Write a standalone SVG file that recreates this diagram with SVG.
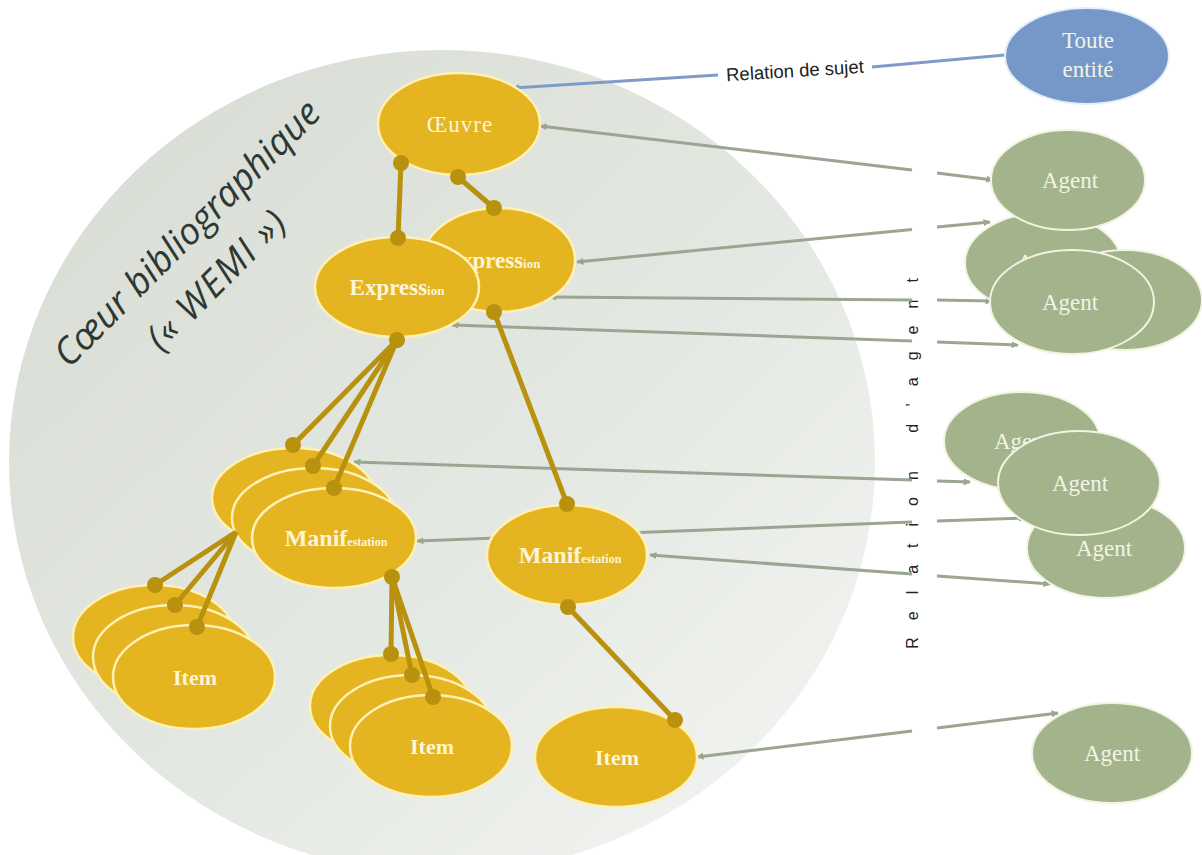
<svg xmlns="http://www.w3.org/2000/svg" width="1202" height="855" viewBox="0 0 1202 855">
<defs>
<linearGradient id="bg" x1="0" y1="0" x2="1" y2="1">
<stop offset="0" stop-color="#d6dbd2"/>
<stop offset="0.55" stop-color="#e4e8e2"/>
<stop offset="1" stop-color="#f4f6f3"/>
</linearGradient>
<marker id="ah" viewBox="0 0 10 10" refX="9" refY="5" markerWidth="2.4" markerHeight="2.4" orient="auto-start-reverse">
<path d="M0,0 L10,5 L0,10 z" fill="#9aa592"/>
</marker>
<marker id="ahb" viewBox="0 0 10 10" refX="9" refY="5" markerWidth="2.4" markerHeight="2.4" orient="auto-start-reverse">
<path d="M0,0 L10,5 L0,10 z" fill="#7f9cc8"/>
</marker>
</defs>
<style>
.gold{fill:#e4b421;stroke:#fff1b5;stroke-width:2.5}
.green{fill:#a3b38b;stroke:#f3f3e2;stroke-width:2}
.blue{fill:#7698c8;stroke:#e8eef8;stroke-width:2}
.gt{font-family:"Liberation Serif",serif;font-weight:bold;fill:#fdf5d8;text-anchor:middle}
.at{font-family:"Liberation Serif",serif;fill:#f3f3e8;text-anchor:middle;font-size:23px}
.rel{stroke:#9aa592;stroke-width:3;fill:none}
.relb{stroke:#7f9cc8;stroke-width:3;fill:none}
.lk{stroke:#b8920f;stroke-width:5;fill:none}
.dot{fill:#b8920f}
.lbl{font-family:"Liberation Sans",Arial,sans-serif;fill:#222}
</style>
<rect width="1202" height="855" fill="#ffffff"/>
<ellipse id="core" cx="442" cy="462" rx="433" ry="412" fill="url(#bg)"/>
<g id="title" transform="translate(196,242) rotate(-45)" font-family="'Open Sans',sans-serif" font-style="italic" font-size="37" fill="#2e3830" text-anchor="middle">
<text x="0" y="0">Cœur bibliographique</text>
<text x="-12" y="54" letter-spacing="1.5">(« WEMI »)</text>
</g>
<text id="rel-agent" class="lbl" transform="translate(918,455) rotate(-90)" font-size="16" letter-spacing="17" text-anchor="middle">Relation d’agent</text>
<g id="connectors">
<line class="relb" x1="513" y1="88" x2="718" y2="75" marker-start="url(#ahb)"/>
<line class="relb" x1="872" y1="67" x2="1005" y2="55"/>
<text class="lbl" x="795" y="77" font-size="18.5" text-anchor="middle" transform="rotate(-3.5 795 72)">Relation de sujet</text>
<polyline class="rel" points="540,126 912,170" marker-start="url(#ah)"/>
<polyline class="rel" points="937,173 993,180" marker-end="url(#ah)"/>
<polyline class="rel" points="577,262 912,229.5" marker-start="url(#ah)"/>
<polyline class="rel" points="937,227 990,222" marker-end="url(#ah)"/>
<polyline class="rel" points="550,297 912,300" marker-start="url(#ah)"/>
<polyline class="rel" points="937,300 992,301" marker-end="url(#ah)"/>
<polyline class="rel" points="452,325 912,341" marker-start="url(#ah)"/>
<polyline class="rel" points="937,342 1018,345" marker-end="url(#ah)"/>
<polyline class="rel" points="354,462 912,480" marker-start="url(#ah)"/>
<polyline class="rel" points="937,481 970,482" marker-end="url(#ah)"/>
<polyline class="rel" points="417,541 912,522" marker-start="url(#ah)"/>
<polyline class="rel" points="937,521 1025,518" marker-end="url(#ah)"/>
<polyline class="rel" points="650,555 912,574" marker-start="url(#ah)"/>
<polyline class="rel" points="937,576 1050,584" marker-end="url(#ah)"/>
<polyline class="rel" points="697,757 912,731" marker-start="url(#ah)"/>
<polyline class="rel" points="937,728 1058,713" marker-end="url(#ah)"/>
</g>
<g id="oeuvre"><ellipse class="gold" cx="459" cy="124" rx="81" ry="51"/><text class="gt" x="460" y="132" font-size="23" letter-spacing="1" style="font-weight:normal">Œuvre</text></g>
<g id="expression2"><ellipse class="gold" cx="499" cy="260" rx="76" ry="52"/><text class="gt" x="493" y="268"><tspan font-size="23">Express</tspan><tspan font-size="13">ion</tspan></text></g>
<g id="expression1"><ellipse class="gold" cx="397" cy="287" rx="82" ry="50"/><text class="gt" x="397" y="295"><tspan font-size="23">Express</tspan><tspan font-size="13">ion</tspan></text></g>
<g id="manif-a"><ellipse class="gold" cx="294" cy="498" rx="82" ry="50"/><text class="gt" x="296" y="506"><tspan font-size="24">Manif</tspan><tspan font-size="12">estation</tspan></text></g>
<g id="manif-b"><ellipse class="gold" cx="314" cy="518" rx="82" ry="50"/><text class="gt" x="316" y="526"><tspan font-size="24">Manif</tspan><tspan font-size="12">estation</tspan></text></g>
<g id="manif-c"><ellipse class="gold" cx="334" cy="538" rx="82" ry="50"/><text class="gt" x="336" y="546"><tspan font-size="24">Manif</tspan><tspan font-size="12">estation</tspan></text></g>
<g id="manif-d"><ellipse class="gold" cx="567" cy="555" rx="80" ry="50"/><text class="gt" x="570" y="563"><tspan font-size="24">Manif</tspan><tspan font-size="12">estation</tspan></text></g>
<g id="item-a1"><ellipse class="gold" cx="154" cy="637" rx="81" ry="52"/><text class="gt" x="155" y="645" font-size="22">Item</text></g>
<g id="item-a2"><ellipse class="gold" cx="174" cy="657" rx="81" ry="52"/><text class="gt" x="175" y="665" font-size="22">Item</text></g>
<g id="item-a3"><ellipse class="gold" cx="194" cy="677" rx="81" ry="52"/><text class="gt" x="195" y="685" font-size="22">Item</text></g>
<g id="item-b1"><ellipse class="gold" cx="391" cy="706" rx="81" ry="51"/><text class="gt" x="392" y="714" font-size="22">Item</text></g>
<g id="item-b2"><ellipse class="gold" cx="411" cy="726" rx="81" ry="51"/><text class="gt" x="412" y="734" font-size="22">Item</text></g>
<g id="item-b3"><ellipse class="gold" cx="431" cy="746" rx="81" ry="51"/><text class="gt" x="432" y="754" font-size="22">Item</text></g>
<g id="item-c"><ellipse class="gold" cx="616" cy="757" rx="81" ry="50"/><text class="gt" x="617" y="765" font-size="22">Item</text></g>
<g id="toute-entite"><ellipse class="blue" cx="1087" cy="56" rx="82" ry="48"/><text class="at" x="1088" y="48">Toute</text><text class="at" x="1088" y="77">entité</text></g>
<g id="agent-2a"><ellipse class="green" cx="1043" cy="263" rx="78" ry="50"/><text class="at" x="1045" y="270">Agent</text></g>
<g id="agent-2b"><ellipse class="green" cx="1125" cy="300" rx="77" ry="50"/><text class="at" x="1125" y="307">Agent</text></g>
<g id="agent-1"><ellipse class="green" cx="1068" cy="180" rx="77" ry="50"/><text class="at" x="1070" y="188">Agent</text></g>
<g id="agent-2"><ellipse class="green" cx="1072" cy="302" rx="82" ry="52"/><text class="at" x="1070" y="310">Agent</text></g>
<g id="agent-3a"><ellipse class="green" cx="1022" cy="441" rx="78" ry="49"/><text class="at" x="1022" y="449">Agent</text></g>
<g id="agent-3c"><ellipse class="green" cx="1106" cy="548" rx="79" ry="50"/><text class="at" x="1104" y="556">Agent</text></g>
<g id="agent-3b"><ellipse class="green" cx="1079" cy="483" rx="81" ry="52"/><text class="at" x="1080" y="491">Agent</text></g>
<g id="agent-4"><ellipse class="green" cx="1112" cy="753" rx="80" ry="50"/><text class="at" x="1112" y="761">Agent</text></g>
<g id="links">
<line class="lk" x1="401" y1="163" x2="398" y2="238"/>
<line class="lk" x1="458" y1="177" x2="494" y2="208"/>
<line class="lk" x1="397" y1="340" x2="293" y2="445"/>
<line class="lk" x1="397" y1="340" x2="313" y2="466"/>
<line class="lk" x1="397" y1="340" x2="334" y2="488"/>
<line class="lk" x1="494" y1="312" x2="567" y2="504"/>
<line class="lk" x1="236" y1="532" x2="155" y2="585"/>
<line class="lk" x1="236" y1="532" x2="175" y2="605"/>
<line class="lk" x1="236" y1="532" x2="197" y2="627"/>
<line class="lk" x1="392" y1="577" x2="391" y2="654"/>
<line class="lk" x1="392" y1="577" x2="412" y2="675"/>
<line class="lk" x1="392" y1="577" x2="433" y2="697"/>
<line class="lk" x1="568" y1="607" x2="675" y2="720"/>
<circle class="dot" cx="401" cy="163" r="8"/>
<circle class="dot" cx="398" cy="238" r="8"/>
<circle class="dot" cx="458" cy="177" r="8"/>
<circle class="dot" cx="494" cy="208" r="8"/>
<circle class="dot" cx="397" cy="340" r="8"/>
<circle class="dot" cx="293" cy="445" r="8"/>
<circle class="dot" cx="313" cy="466" r="8"/>
<circle class="dot" cx="334" cy="488" r="8"/>
<circle class="dot" cx="494" cy="312" r="8"/>
<circle class="dot" cx="567" cy="504" r="8"/>
<circle class="dot" cx="155" cy="585" r="8"/>
<circle class="dot" cx="175" cy="605" r="8"/>
<circle class="dot" cx="197" cy="627" r="8"/>
<circle class="dot" cx="392" cy="577" r="8"/>
<circle class="dot" cx="391" cy="654" r="8"/>
<circle class="dot" cx="412" cy="675" r="8"/>
<circle class="dot" cx="433" cy="697" r="8"/>
<circle class="dot" cx="568" cy="607" r="8"/>
<circle class="dot" cx="675" cy="720" r="8"/>
</g>
</svg>
